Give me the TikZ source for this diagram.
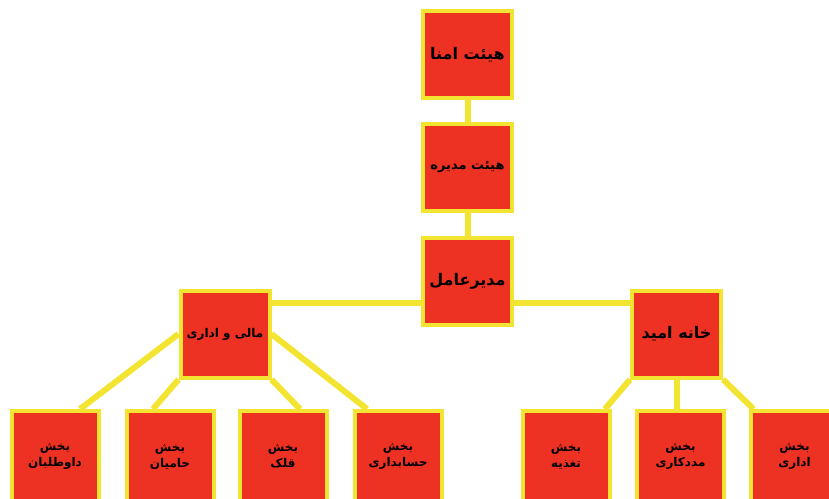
\documentclass[tikz,border=0pt]{standalone}
\usepackage{fontspec}
\newfontfamily\arabicfont[Script=Arabic]{DejaVu Sans}
\TeXXeTstate=1
\usetikzlibrary{backgrounds}
\definecolor{rouge}{RGB}{237,50,36}
\definecolor{jaune}{RGB}{242,228,48}
\newcommand{\rtltext}[1]{\beginR #1\endR}
\tikzset{
    unite/.style={draw=jaune, line width=4pt, fill=rouge, minimum width=89pt, minimum height=87pt,
      inner sep=0pt, align=center, text=black, font=\arabicfont\bfseries\fontsize{16}{19}\selectfont},
    moyenne/.style={font=\arabicfont\bfseries\fontsize{13}{16}\selectfont},
    petite/.style={font=\arabicfont\bfseries\fontsize{12}{16}\selectfont},
    bureau/.style={unite, petite, minimum width=87pt, minimum height=91pt},
    lien/.style={draw=jaune, line width=6pt},
  }
\begin{document}
\begin{tikzpicture}[x=1pt,y=-1pt]
				  \useasboundingbox (0,0) rectangle (829,498);
				  \clip (0,0) rectangle (829,498);
				  %direction
				  \node[unite] (amna) at (467.5,54.5) {\rtltext{هیئت امنا}};
				  \node[unite,moyenne] (modire) at (467.5,167.5) {\rtltext{هیئت مدیره}};
				  \node[unite] (amel) at (467.5,281) {\rtltext{مدیرعامل}};
				  \node[unite,petite] (mali) at (225,334) {\rtltext{مالی و اداری}};
				  \node[unite] (omid) at (676.5,334) {\rtltext{خانه امید}};
				  %bakhsh
				  \foreach \nom/\x/\texte in {davtalab/55/داوطلبان, hamian/170/حامیان, ghollak/283/قلک, hesab/398/حسابداری,
				                              taghzie/566/تغذیه, madadkari/680.5/مددکاری, edari/794.5/اداری}
				    \node[bureau] (\nom) at (\x,456.5) {\rtltext{بخش}\\\rtltext{\texte}};
				  %liens
				  \begin{pgfonlayer}{background}
				  \draw[lien] (amna) -- (modire);
				  \draw[lien] (modire) -- (amel);
				  \draw[lien] ([yshift=31pt]mali.center) -- ([yshift=31pt]omid.center);
				  \draw[lien] (mali.west) -- ([xshift=25pt]davtalab.north);
				  \draw[lien] (mali.south west) -- ([xshift=-17pt]hamian.north);
				  \draw[lien] (mali.south east) -- ([xshift=17pt]ghollak.north);
				  \draw[lien] (mali.east) -- ([xshift=-31pt]hesab.north);
				  \draw[lien] (omid.south west) -- ([xshift=39pt]taghzie.north);
				  \draw[lien] (omid.south) -- (omid.south |- madadkari.north);
				  \draw[lien] (omid.south east) -- ([xshift=-41pt]edari.north);
				  \end{pgfonlayer}
\end{tikzpicture}
\end{document}
